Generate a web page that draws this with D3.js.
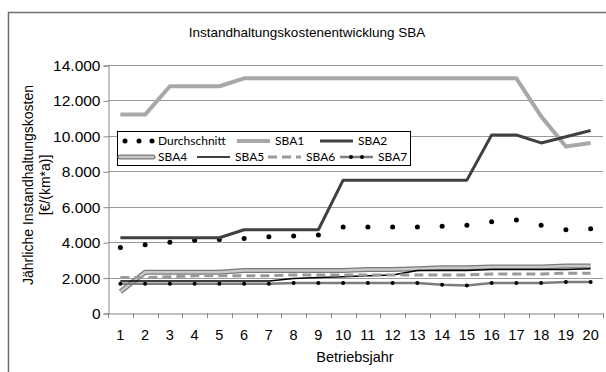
<!DOCTYPE html>
<html>
<head>
<meta charset="utf-8">
<script src="https://cdn.jsdelivr.net/npm/d3@7"></script>
<style>
  html, body { margin: 0; padding: 0; background: #fff; }
  svg { display: block; }
</style>
</head>
<body>
<svg id="chart" width="606" height="372"></svg>
<script>
// Betriebsjahre (categories)
const years = [1, 2, 3, 4, 5, 6, 7, 8, 9, 10, 11, 12, 13, 14, 15, 16, 17, 18, 19, 20];

// Jährliche Instandhaltungskosten in €/(km*a)
const durchschnitt = [3700, 3850, 4000, 4100, 4150, 4200, 4300, 4350, 4400, 4850, 4850, 4850, 4850, 4900, 4950, 5150, 5250, 4950, 4700, 4750];
const sba1 = [11200, 11200, 12800, 12800, 12800, 13250, 13250, 13250, 13250, 13250, 13250, 13250, 13250, 13250, 13250, 13250, 13250, 11100, 9400, 9600];
const sba2 = [4250, 4250, 4250, 4250, 4250, 4700, 4700, 4700, 4700, 7500, 7500, 7500, 7500, 7500, 7500, 10050, 10050, 9600, 9950, 10300];
const sba4 = [1200, 2300, 2300, 2300, 2300, 2400, 2400, 2400, 2400, 2400, 2450, 2450, 2500, 2550, 2550, 2600, 2600, 2600, 2650, 2650];
const sba5 = [1800, 1800, 1800, 1800, 1800, 1800, 1800, 1950, 2000, 2050, 2100, 2150, 2400, 2400, 2400, 2450, 2450, 2450, 2450, 2500];
const sba6 = [2000, 2000, 2050, 2100, 2100, 2100, 2100, 2150, 2150, 2150, 2150, 2150, 2150, 2150, 2150, 2200, 2200, 2200, 2250, 2250];
const sba7 = [1650, 1650, 1650, 1650, 1650, 1650, 1650, 1700, 1700, 1700, 1700, 1700, 1700, 1600, 1550, 1700, 1700, 1700, 1750, 1750];

// Axis ticks
const yTicks = [0, 2000, 4000, 6000, 8000, 10000, 12000, 14000];

const svg = d3.select("#chart");
const axisFont = "'Liberation Sans', Arial, sans-serif";
const legendFont = "Lato, 'Open Sans', sans-serif";

// Outer chart frame
svg.append("rect")
  .attr("x", 8.5).attr("y", 12.5)
  .attr("width", 640).attr("height", 400)
  .attr("fill", "#fff").attr("stroke", "#6e6e6e").attr("stroke-width", 1.5);

const plot = { left: 108, right: 603, top: 65, bottom: 313 };

const x = d3.scaleBand().domain(years).range([plot.left, plot.right]).padding(0);
const cx = d => x(d) + x.bandwidth() / 2;
const y = d3.scaleLinear().domain([0, 14000]).range([plot.bottom, plot.top]);

const de = d3.formatLocale({ decimal: ",", thousands: ".", grouping: [3], currency: ["", " €"] });
const fmt = de.format(",.0f");

// Horizontal gridlines
svg.append("g")
  .selectAll("line")
  .data(yTicks.filter(t => t > 0))
  .join("line")
  .attr("x1", plot.left).attr("x2", plot.right)
  .attr("y1", d => Math.round(y(d)) + 0.5).attr("y2", d => Math.round(y(d)) + 0.5)
  .attr("stroke", "#9a9a9a").attr("stroke-width", 1);

// Y axis
const yAxis = svg.append("g")
  .attr("transform", `translate(${plot.left + 0.5},0.5)`)
  .call(d3.axisLeft(y).tickValues(yTicks).tickFormat(fmt).tickSize(5).tickPadding(3));
yAxis.select(".domain").attr("stroke", "#868686");
yAxis.selectAll(".tick line").attr("stroke", "#868686");
yAxis.selectAll(".tick text")
  .attr("font-family", axisFont).attr("font-size", "15.5px").attr("fill", "#000");

// X axis: ticks sit on the category boundaries
const xAxis = svg.append("g")
  .attr("transform", `translate(0,${plot.bottom + 0.5})`)
  .call(d3.axisBottom(x).tickSize(0).tickPadding(16));
xAxis.select(".domain").attr("stroke", "#868686");
xAxis.selectAll(".tick text")
  .attr("font-family", axisFont).attr("font-size", "14.5px").attr("fill", "#000");
svg.append("g")
  .selectAll("line")
  .data(d3.range(years.length + 1))
  .join("line")
  .attr("x1", i => Math.round(plot.left + i * x.bandwidth()) + 0.5)
  .attr("x2", i => Math.round(plot.left + i * x.bandwidth()) + 0.5)
  .attr("y1", plot.bottom).attr("y2", plot.bottom + 5)
  .attr("stroke", "#868686");

// Titles
svg.append("text")
  .attr("x", 307).attr("y", 37)
  .attr("text-anchor", "middle")
  .attr("font-family", axisFont).attr("font-size", "13.5px")
  .text("Instandhaltungskostenentwicklung SBA");

svg.append("text")
  .attr("x", 355).attr("y", 362)
  .attr("text-anchor", "middle")
  .attr("font-family", axisFont).attr("font-size", "14.5px")
  .text("Betriebsjahr");

const yTitle = svg.append("text")
  .attr("transform", "translate(33,185) rotate(-90)")
  .attr("text-anchor", "middle")
  .attr("font-family", axisFont).attr("font-size", "14px");
yTitle.append("tspan").attr("x", 0).attr("dy", 0).text("Jährliche Instandhaltungskosten");
yTitle.append("tspan").attr("x", 0).attr("dy", 17).text("[€/(km*a)]");

// Series definitions
const series = [
  { name: "Durchschnitt", values: durchschnitt, layers: [], dots: { r: 2.5, fill: "#000" } },
  { name: "SBA1", values: sba1, layers: [{ stroke: "#a8a8a8", width: 4 }] },
  { name: "SBA2", values: sba2, layers: [{ stroke: "#404040", width: 3 }] },
  { name: "SBA4", values: sba4, layers: [{ stroke: "#7a7a7a", width: 5 }, { stroke: "#c8c8c8", width: 2.5 }] },
  { name: "SBA5", values: sba5, layers: [{ stroke: "#000", width: 1.5 }] },
  { name: "SBA6", values: sba6, layers: [{ stroke: "#9a9a9a", width: 3, dash: "9,5" }] },
  { name: "SBA7", values: sba7, layers: [{ stroke: "#7d7d7d", width: 2.5 }], dots: { r: 2, fill: "#000" } }
];

const line = d3.line().x((d, i) => cx(years[i])).y(d => y(d));

const marks = svg.append("g");
series.forEach(s => {
  s.layers.forEach(l => {
    marks.append("path")
      .datum(s.values)
      .attr("d", line)
      .attr("fill", "none")
      .attr("stroke", l.stroke)
      .attr("stroke-width", l.width)
      .attr("stroke-dasharray", l.dash || null)
      .attr("stroke-linejoin", "round");
  });
  if (s.dots) {
    marks.append("g")
      .selectAll("circle")
      .data(s.values)
      .join("circle")
      .attr("cx", (d, i) => cx(years[i]))
      .attr("cy", d => y(d))
      .attr("r", s.dots.r)
      .attr("fill", s.dots.fill);
  }
});

// Legend
const legend = svg.append("g");
legend.append("rect")
  .attr("x", 117.5).attr("y", 131.5)
  .attr("width", 293).attr("height", 34)
  .attr("fill", "#fff").attr("stroke", "#000").attr("stroke-width", 1);

const legendPos = [
  { x: 120, y: 141 }, { x: 237, y: 141 }, { x: 320, y: 141 },
  { x: 120, y: 157 }, { x: 197, y: 157 }, { x: 268, y: 157 }, { x: 340, y: 157 }
];
const symW = 33;

series.forEach((s, i) => {
  const p = legendPos[i];
  const g = legend.append("g").attr("transform", `translate(${p.x},${p.y})`);
  s.layers.forEach(l => {
    g.append("line")
      .attr("x1", 0).attr("x2", symW).attr("y1", 0).attr("y2", 0)
      .attr("stroke", l.stroke).attr("stroke-width", l.width)
      .attr("stroke-dasharray", l.dash || null)
      .attr("stroke-linecap", s.name === "SBA4" ? "round" : "butt");
  });
  if (s.dots) {
    const dx = s.layers.length ? [11, 22] : [5, 19, 32];
    dx.forEach(d => g.append("circle").attr("cx", d).attr("cy", 0).attr("r", s.dots.r).attr("fill", s.dots.fill));
  }
  g.append("text")
    .attr("x", symW + 5).attr("y", 0).attr("dy", "0.35em")
    .attr("font-family", legendFont).attr("font-size", "12px")
    .text(s.name);
});
</script>
</body>
</html>
